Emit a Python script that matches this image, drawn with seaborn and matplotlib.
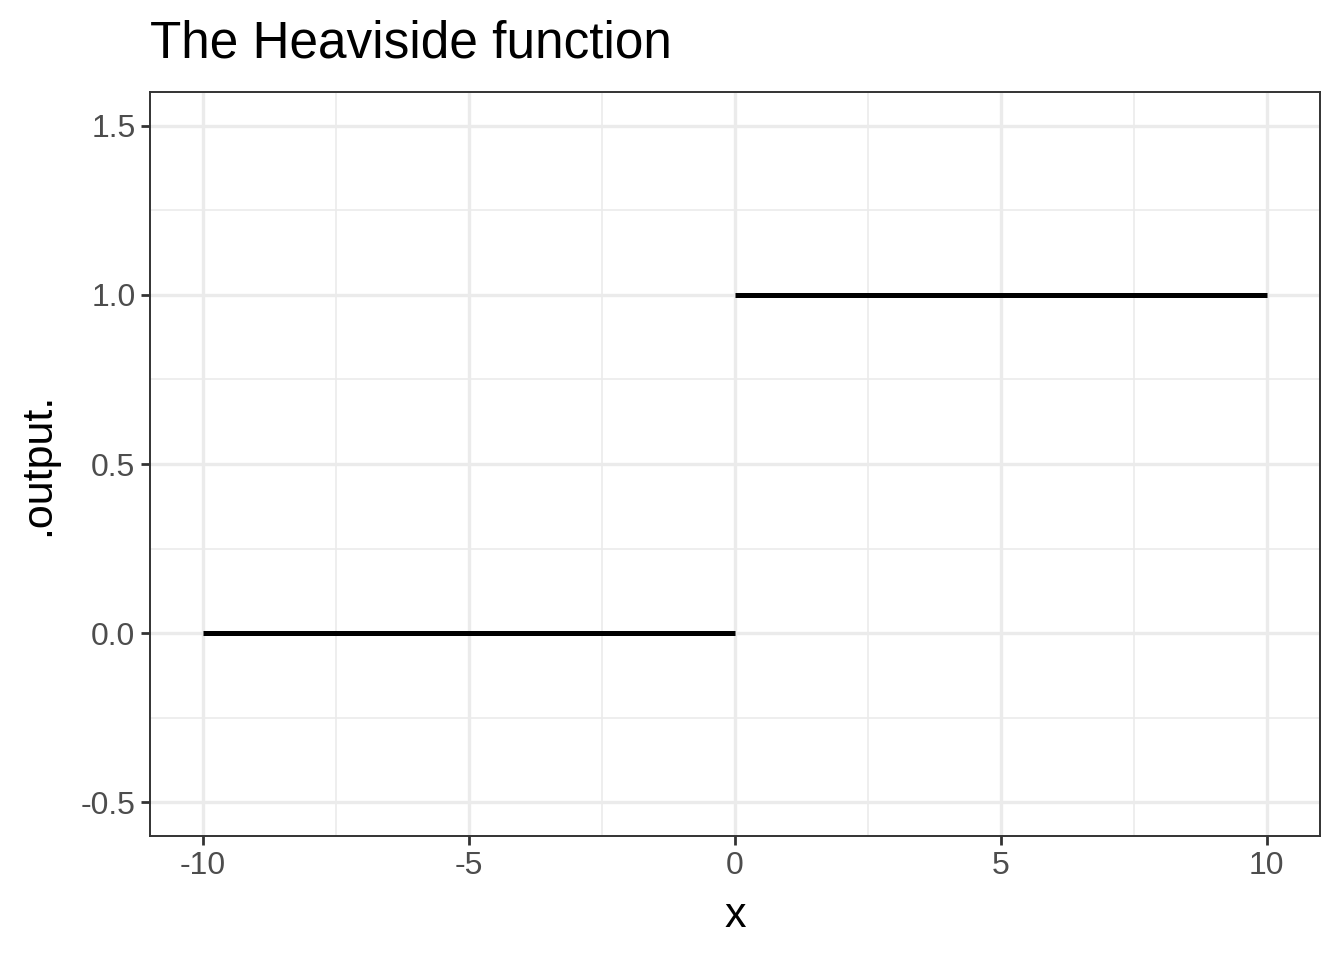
import matplotlib
matplotlib.use("Agg")
import matplotlib.pyplot as plt
import seaborn as sns
import pandas as pd
from matplotlib.ticker import MultipleLocator

# step function pieces
x_vals = [-10, 0, 0, 10]
output_vals = [0, 0, 1, 1]
piece = ["left", "left", "right", "right"]

x_ticks = [-10, -5, 0, 5, 10]
y_ticks = [-0.5, 0.0, 0.5, 1.0, 1.5]

df = pd.DataFrame({"x": x_vals, ".output.": output_vals, "piece": piece})

sns.set_theme(style="white")
plt.rcParams["font.family"] = ["Liberation Sans", "DejaVu Sans"]

fig = plt.figure(figsize=(13.44, 9.6), dpi=100)
ax = fig.add_axes([150 / 1344, 1 - 836 / 960, 1170 / 1344, 744 / 960])

sns.lineplot(data=df, x="x", y=".output.", units="piece", estimator=None,
             color="black", linewidth=3.6, ax=ax, solid_capstyle="butt")

ax.set_xlim(-11, 11)
ax.set_ylim(-0.6, 1.6)
ax.set_xticks(x_ticks)
ax.set_xticklabels([f"{v:g}" for v in x_ticks])
ax.set_yticks(y_ticks)
ax.set_yticklabels([f"{v:.1f}" for v in y_ticks])
ax.xaxis.set_minor_locator(MultipleLocator(2.5))
ax.yaxis.set_minor_locator(MultipleLocator(0.25))

ax.grid(True, which="major", color="#EBEBEB", linewidth=2.4)
ax.grid(True, which="minor", color="#EBEBEB", linewidth=1.2)
ax.set_axisbelow(True)

for s in ax.spines.values():
    s.set_color("#333333")
    s.set_linewidth(1.4)

ax.tick_params(which="major", length=6.5, width=2.0, color="#333333",
               labelcolor="#4D4D4D", labelsize=23, pad=4,
               bottom=True, left=True)
ax.tick_params(which="minor", length=0)

ax.set_xlabel("x", fontsize=31, color="black", labelpad=11)
ax.set_ylabel(".output.", fontsize=31, color="black", labelpad=16)

fig.text(150 / 1344, 1 - 58 / 960, "The Heaviside function", fontsize=37,
         ha="left", va="baseline", color="black")

fig.savefig("out.png", dpi=100)
